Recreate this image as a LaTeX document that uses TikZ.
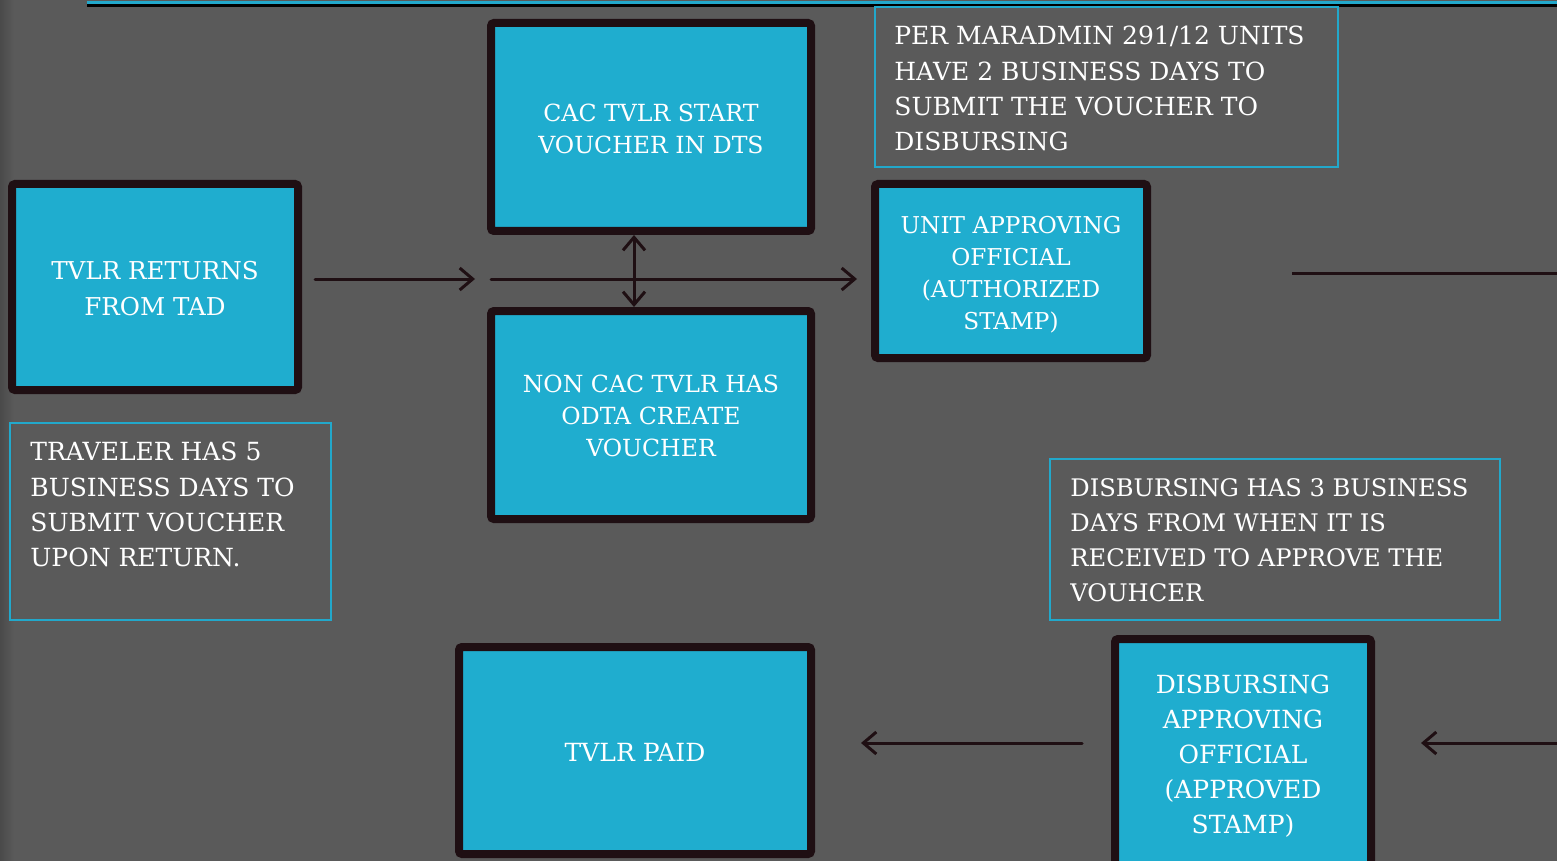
\documentclass[tikz,border=0pt]{standalone}
\usepackage{fontspec}
\setmainfont{DejaVu Serif}
\usetikzlibrary{arrows.meta}
\definecolor{bg}{HTML}{5A5A5A}
\definecolor{bgedge}{HTML}{4A4A4A}
\definecolor{teal}{HTML}{1FADCF}
\definecolor{ink}{HTML}{1F0F13}
\definecolor{rule}{HTML}{22A8CB}
\definecolor{shade}{HTML}{363636}
% invisible strut that lowers a centred block of lines a little
\newcommand\topgap[1]{\rule{0pt}{#1}}

\begin{document}
\begin{tikzpicture}[x=0.5pt,y=-0.5pt,
  stepbox/.style={draw=ink, fill=teal, line width=4pt, rounded corners=1.5pt,
    text=white, align=center, inner sep=0pt},
  notebox/.style={draw=rule, line width=1pt, inner sep=0pt},
  notetext/.style={text=white, align=left, anchor=north west, inner sep=0pt,
    font=\fontsize{12.5}{17.6}\selectfont},
  flow/.style={draw=ink, line width=1.5pt, line cap=round,
    -{Straight Barb[length=6.5pt,width=11pt]}},
  both/.style={draw=ink, line width=1.5pt, line cap=round,
    {Straight Barb[length=6.5pt,width=11pt]}-{Straight Barb[length=6.5pt,width=11pt]}},
  plain/.style={draw=ink, line width=1.5pt}]

% background
\useasboundingbox (0,0) rectangle (1557,861);
\fill[bg] (0,0) rectangle (1557,861);
\shade[left color=bgedge, right color=bg] (0,0) rectangle (14,861);

% title rule with its shadow
\draw[shade, line width=1.5pt] (87,6) -- (1557,6);
\draw[rule, line width=1.5pt] (87,3) -- (1557,3);

% process steps
\node[stepbox, minimum width=143pt, minimum height=103pt,
  font=\fontsize{12.3}{18}\selectfont] (b1) at (155,287)
  {\topgap{11pt}TVLR RETURNS\\FROM TAD};
\node[stepbox, minimum width=160pt, minimum height=104pt,
  font=\fontsize{11.8}{16}\selectfont] (b2) at (651,127)
  {\topgap{11pt}CAC TVLR START\\VOUCHER IN DTS};
\node[stepbox, minimum width=160pt, minimum height=104pt,
  font=\fontsize{11.8}{16}\selectfont] (b3) at (651,415)
  {\topgap{10pt}NON CAC TVLR HAS\\ODTA CREATE\\VOUCHER};
\node[stepbox, minimum width=136pt, minimum height=87pt,
  font=\fontsize{11.6}{16}\selectfont] (b4) at (1011,271)
  {\topgap{12pt}UNIT APPROVING\\OFFICIAL\\(AUTHORIZED\\STAMP)};
\node[stepbox, minimum width=176pt, minimum height=103.5pt,
  font=\fontsize{12.5}{17.5}\selectfont] (b5) at (635,750.5)
  {\topgap{11pt}TVLR PAID};
\node[stepbox, minimum width=128pt, minimum height=117pt,
  font=\fontsize{12.5}{17.5}\selectfont] (b6) at (1243,756)
  {DISBURSING\\APPROVING\\OFFICIAL\\(APPROVED\\STAMP)};

% notes
\node[notebox, minimum width=231.5pt, minimum height=80pt] (n1) at (1106.5,87) {};
\node[notetext] (n1t) at (894,26)
  {PER MARADMIN 291/12 UNITS\\HAVE 2 BUSINESS DAYS TO\\SUBMIT THE VOUCHER TO\\DISBURSING};
\node[notebox, minimum width=160.5pt, minimum height=98.5pt] (n2) at (170.5,521.5) {};
\node[notetext] (n2t) at (30,442)
  {TRAVELER HAS 5\\BUSINESS DAYS TO\\SUBMIT VOUCHER\\UPON RETURN.};
\node[notebox, minimum width=225pt, minimum height=80.5pt] (n3) at (1275,539.5) {};
\node[notetext, font=\fontsize{12.1}{17.6}\selectfont] (n3t) at (1070,478)
  {DISBURSING HAS 3 BUSINESS\\DAYS FROM WHEN IT IS\\RECEIVED TO APPROVE THE\\VOUHCER};

% connector end points
\coordinate (a1s) at (315,279);
\coordinate (a1e) at (475,279);
\coordinate (a2s) at (491,279);
\coordinate (a2e) at (857,279);
\coordinate (vx) at (634,0);
\coordinate (r1s) at (1292,273);
\coordinate (r1e) at (1557,273);
\coordinate (a3s) at (1082,743);
\coordinate (a3e) at (861,743);
\coordinate (a4s) at (1557,743);
\coordinate (a4e) at (1421,743);

% connectors
\draw[flow] (a1s) -- (a1e);
\draw[flow] (a2s) -- (a2e);
\draw[both] (b2.south -| vx) -- (b3.north -| vx);
\draw[plain] (r1s) -- (r1e);
\draw[flow] (a3s) -- (a3e);
\draw[flow] (a4s) -- (a4e);
\end{tikzpicture}
\end{document}
